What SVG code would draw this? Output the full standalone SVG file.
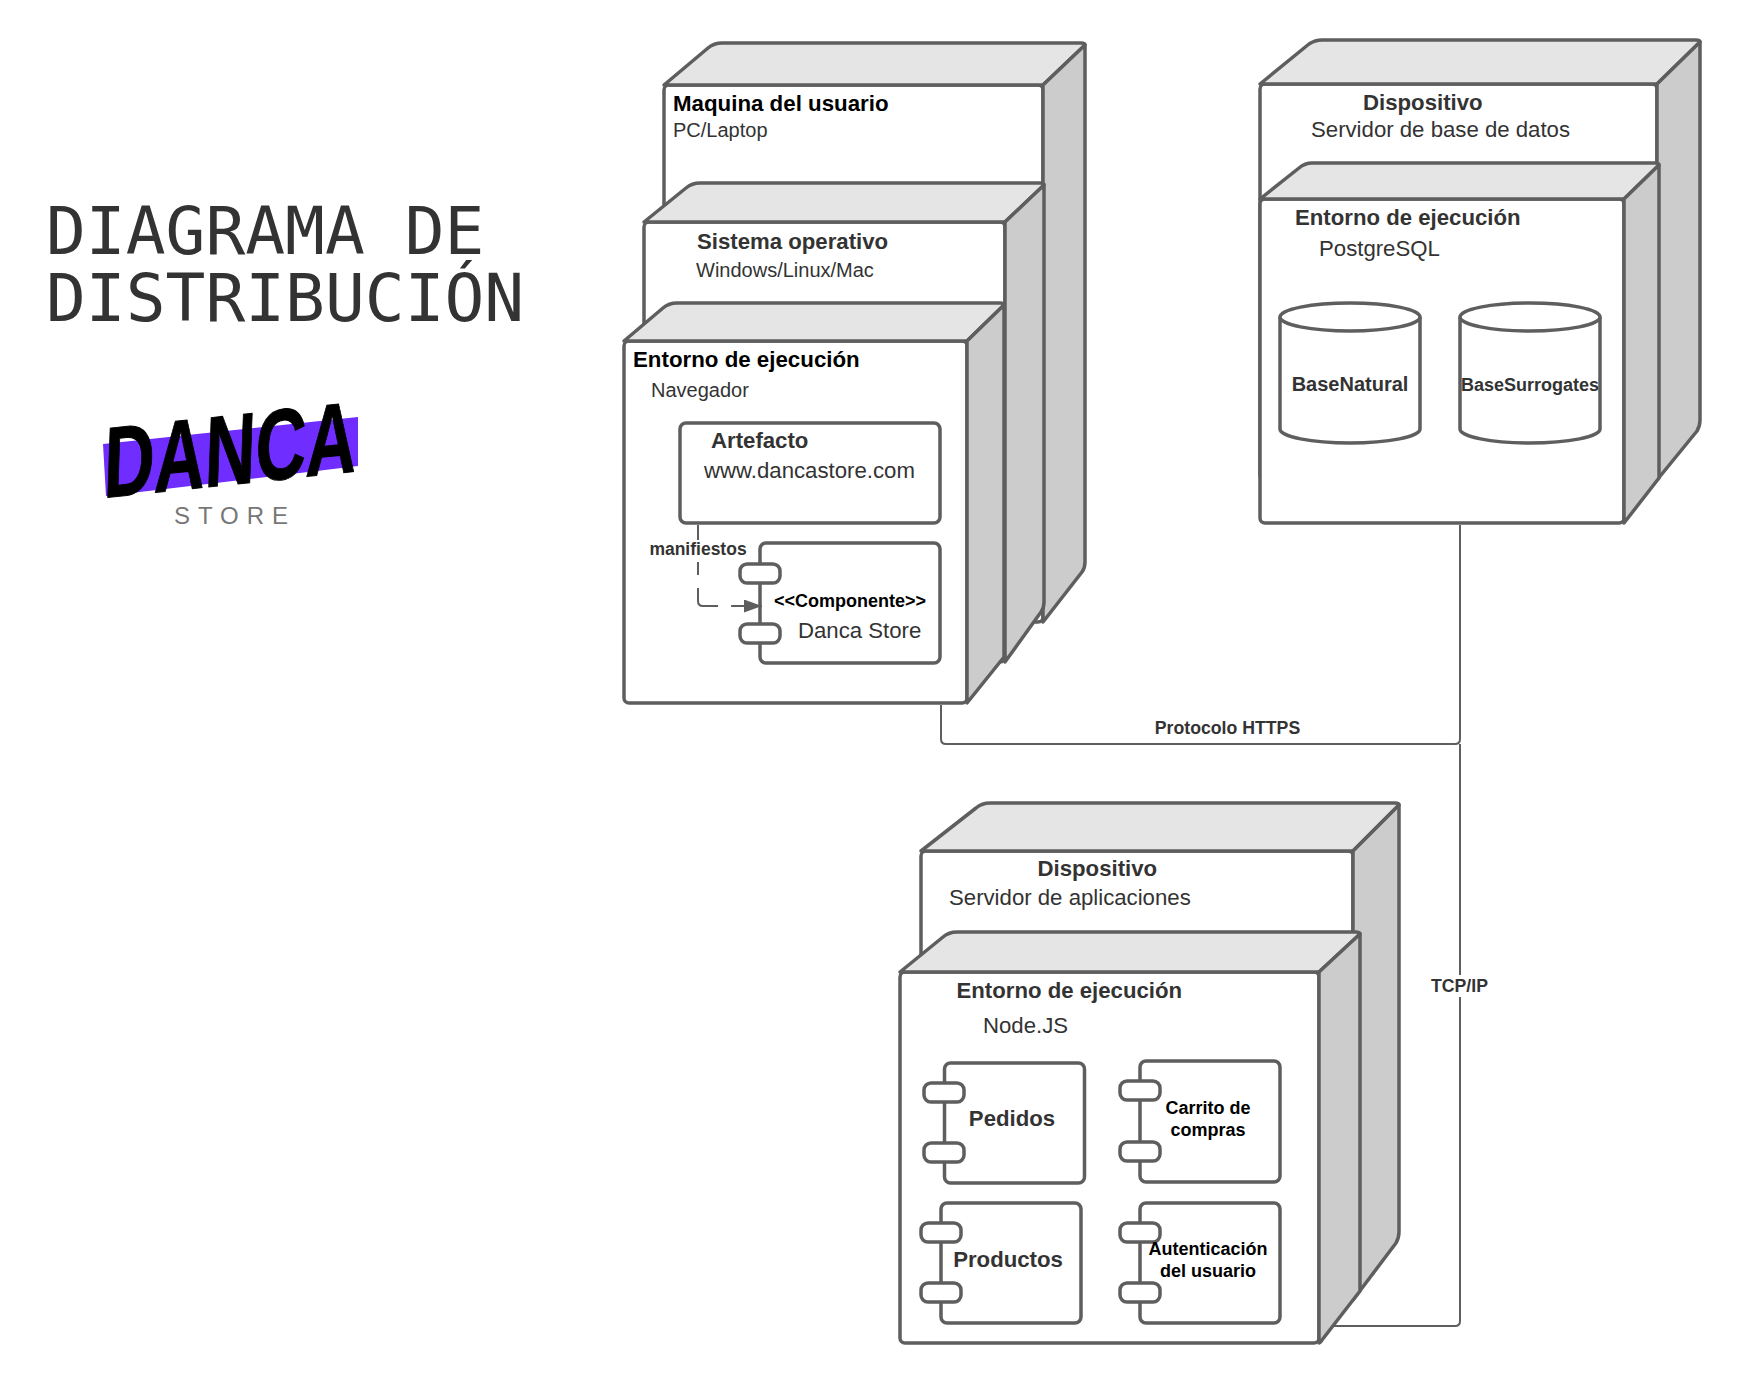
<svg xmlns="http://www.w3.org/2000/svg" width="1740" height="1383" viewBox="0 0 1740 1383">
<style>
text{font-family:"Liberation Sans",Arial,sans-serif;font-size:22.2px;fill:#333}
.b{font-weight:700}
.k{fill:#000}
.s{font-size:18px;font-weight:700}
.m{text-anchor:middle}
.front{fill:#fff;stroke:#5e5e5e;stroke-width:3.5}
.top{fill:#e5e5e5;stroke:#5e5e5e;stroke-width:3.5;stroke-linejoin:round}
.side{fill:#ccc;stroke:#5e5e5e;stroke-width:3.5;stroke-linejoin:round}
.box{fill:#fff;stroke:#5e5e5e;stroke-width:3.5}
.line{fill:none;stroke:#5e5e5e;stroke-width:3.5}
.conn{fill:none;stroke:#5e5e5e;stroke-width:2}
.title{font-family:"DejaVu Sans Mono",monospace;font-size:66.2px;fill:#333}
</style>
<defs>
<marker id="arrow" markerWidth="20" markerHeight="14" refX="18" refY="6.500" orient="auto" markerUnits="userSpaceOnUse"><path d="M0 0L18 6.500L0 13Z" fill="#5e5e5e"/></marker>
</defs>
<g id="title"><text class="title" y="254"><tspan x="46">DIAGRAMA DE</tspan><tspan x="46" y="321">DISTRIBUCIÓN</tspan></text></g>
<g id="logo">
<polygon points="103,444 358,417 358,466 106,496" fill="#6f2dff"/>
<text x="0" y="0" transform="translate(103 498) rotate(-6) skewX(-8)" textLength="254" lengthAdjust="spacingAndGlyphs" style="font-size:100px;font-weight:700;fill:#000;stroke:#000;stroke-width:1">DANCA</text>
<text x="174" y="524" textLength="114" style="font-size:24px;fill:#777">STORE</text>
</g>
<g id="maquina">
<rect class="front" x="664" y="85" width="379" height="537" rx="5"/>
<path class="top" d="M664 85L708 48Q714 43 722 43H1081Q1085 43 1085 45L1043 85Z"/>
<path class="side" d="M1043 85L1085 45V562Q1085 568 1082 572L1043 622Z"/>
<text class="b k" x="673" y="111" style="font-size:22.300px">Maquina del usuario</text>
<text x="673" y="137" style="font-size:20px">PC/Laptop</text>
</g>
<g id="sistema">
<rect class="front" x="644" y="222" width="361" height="440" rx="5"/>
<path class="top" d="M644 222L686 188Q692 183 700 183H1040Q1044 183 1044 185L1005 222Z"/>
<path class="side" d="M1005 222L1044 185V602Q1044 608 1041 612L1005 662Z"/>
<text class="b" x="697" y="249">Sistema operativo</text>
<text x="696" y="277" style="font-size:20px">Windows/Linux/Mac</text>
</g>
<g id="entorno-navegador">
<rect class="front" x="624" y="341" width="343" height="362" rx="5"/>
<path class="top" d="M624 341L663 308Q669 303 677 303H1000Q1004 303 1004 305L967 341Z"/>
<path class="side" d="M967 341L1004 305V657L967 703Z"/>
<text class="b k" x="633" y="367" style="font-size:22.300px">Entorno de ejecución</text>
<text x="651" y="397" style="font-size:20px">Navegador</text>
</g>
<g id="artefacto">
<rect class="box" x="680" y="423" width="260" height="100" rx="6"/>
<text class="b" x="711" y="448">Artefacto</text>
<text x="704" y="478">www.dancastore.com</text>
</g>
<g id="componente">
<rect class="box" x="760" y="543" width="180" height="120" rx="6"/>
<rect class="box" x="740" y="564" width="40" height="19" rx="7"/>
<rect class="box" x="740" y="624" width="40" height="19" rx="7"/>
<text class="s k m" x="850" y="607">&lt;&lt;Componente&gt;&gt;</text>
<text x="798" y="638">Danca Store</text>
</g>
<g id="dispositivo-bd">
<rect class="front" x="1260" y="84" width="397" height="396" rx="5"/>
<path class="top" d="M1260 84L1309 44Q1315 40 1322 40H1696Q1700 40 1700 42L1657 84Z"/>
<path class="side" d="M1657 84L1700 42V420Q1700 426 1697 431L1657 480Z"/>
<text class="b" x="1363" y="110">Dispositivo</text>
<text x="1311" y="137">Servidor de base de datos</text>
</g>
<g id="entorno-postgres">
<rect class="front" x="1260" y="199" width="364" height="324" rx="5"/>
<path class="top" d="M1260 199L1299 168Q1305 163 1312 163H1655Q1659 163 1659 165L1624 199Z"/>
<path class="side" d="M1624 199L1659 165V478L1624 523Z"/>
<text class="b" x="1295" y="225">Entorno de ejecución</text>
<text x="1319" y="255.500">PostgreSQL</text>
</g>
<g id="base-natural">
<path class="box" d="M1280 317A70 14 0 0 1 1420 317V429A70 14 0 0 1 1280 429Z"/>
<path class="line" d="M1280 317A70 14 0 0 0 1420 317"/>
<text class="b m" x="1350" y="390.500" style="font-size:20px">BaseNatural</text>
</g>
<g id="base-surrogates">
<path class="box" d="M1460 317A70 14 0 0 1 1600 317V429A70 14 0 0 1 1460 429Z"/>
<path class="line" d="M1460 317A70 14 0 0 0 1600 317"/>
<text class="b m" x="1530" y="391" style="font-size:18px">BaseSurrogates</text>
</g>
<g id="dispositivo-app">
<rect class="front" x="921" y="851" width="432" height="450" rx="5"/>
<path class="top" d="M921 851L976 808Q982 803 990 803H1395Q1399 803 1399 805L1353 851Z"/>
<path class="side" d="M1353 851L1399 805V1232Q1399 1238 1396 1243L1353 1300Z"/>
<text class="b" x="1037.500" y="875.500">Dispositivo</text>
<text x="949" y="904.500">Servidor de aplicaciones</text>
</g>
<g id="entorno-node">
<rect class="front" x="900" y="972" width="419" height="371" rx="5"/>
<path class="top" d="M900 972L943 937Q949 932 957 932H1355Q1360 932 1360 934L1319 972Z"/>
<path class="side" d="M1319 972L1360 934V1291L1322 1340Q1320 1343 1319 1343Z"/>
<text class="b" x="956.500" y="997.500">Entorno de ejecución</text>
<text x="983" y="1032.500">Node.JS</text>
</g>
<g id="pedidos">
<rect class="box" x="944.500" y="1063" width="140" height="120" rx="6"/>
<rect class="box" x="924" y="1083" width="40" height="19" rx="7"/>
<rect class="box" x="924" y="1143" width="40" height="19" rx="7"/>
<text class="b m" x="1012" y="1126">Pedidos</text>
</g>
<g id="carrito">
<rect class="box" x="1140" y="1061" width="140" height="121" rx="6"/>
<rect class="box" x="1120" y="1081" width="40" height="19" rx="7"/>
<rect class="box" x="1120" y="1142" width="40" height="19" rx="7"/>
<text class="s k m" x="1208" y="1114">Carrito de</text>
<text class="s k m" x="1208" y="1136">compras</text>
</g>
<g id="productos">
<rect class="box" x="941" y="1203" width="140" height="120" rx="6"/>
<rect class="box" x="921" y="1223" width="40" height="19" rx="7"/>
<rect class="box" x="921" y="1283" width="40" height="19" rx="7"/>
<text class="b m" x="1008" y="1266.500">Productos</text>
</g>
<g id="autenticacion">
<rect class="box" x="1140" y="1203" width="140" height="120" rx="6"/>
<rect class="box" x="1120" y="1223" width="40" height="19" rx="7"/>
<rect class="box" x="1120" y="1283" width="40" height="19" rx="7"/>
<text class="s k m" x="1208" y="1255">Autenticación</text>
<text class="s k m" x="1208" y="1277">del usuario</text>
</g>
<g id="connectors">
<path class="conn" d="M941 705V739Q941 744 946 744H1455Q1460 744 1460 739V525"/>
<path class="conn" d="M1460 744V1321Q1460 1326 1455 1326H1333"/>
<rect x="1429" y="975" width="62" height="22" fill="#fff"/>
<text class="s m" x="1459.500" y="991.500" style="font-size:17.700px">TCP/IP</text>
<text class="s m" x="1227.500" y="733.500" style="font-size:17.700px">Protocolo HTTPS</text>
<path class="conn" stroke-dasharray="50 13 36 13 50" d="M698 525V601Q698 606 703 606H762" marker-end="url(#arrow)"/>
<rect x="648" y="540" width="100" height="22" fill="#fff"/>
<text class="s m" x="698" y="555" style="font-size:17.500px">manifiestos</text>
</g>
</svg>
